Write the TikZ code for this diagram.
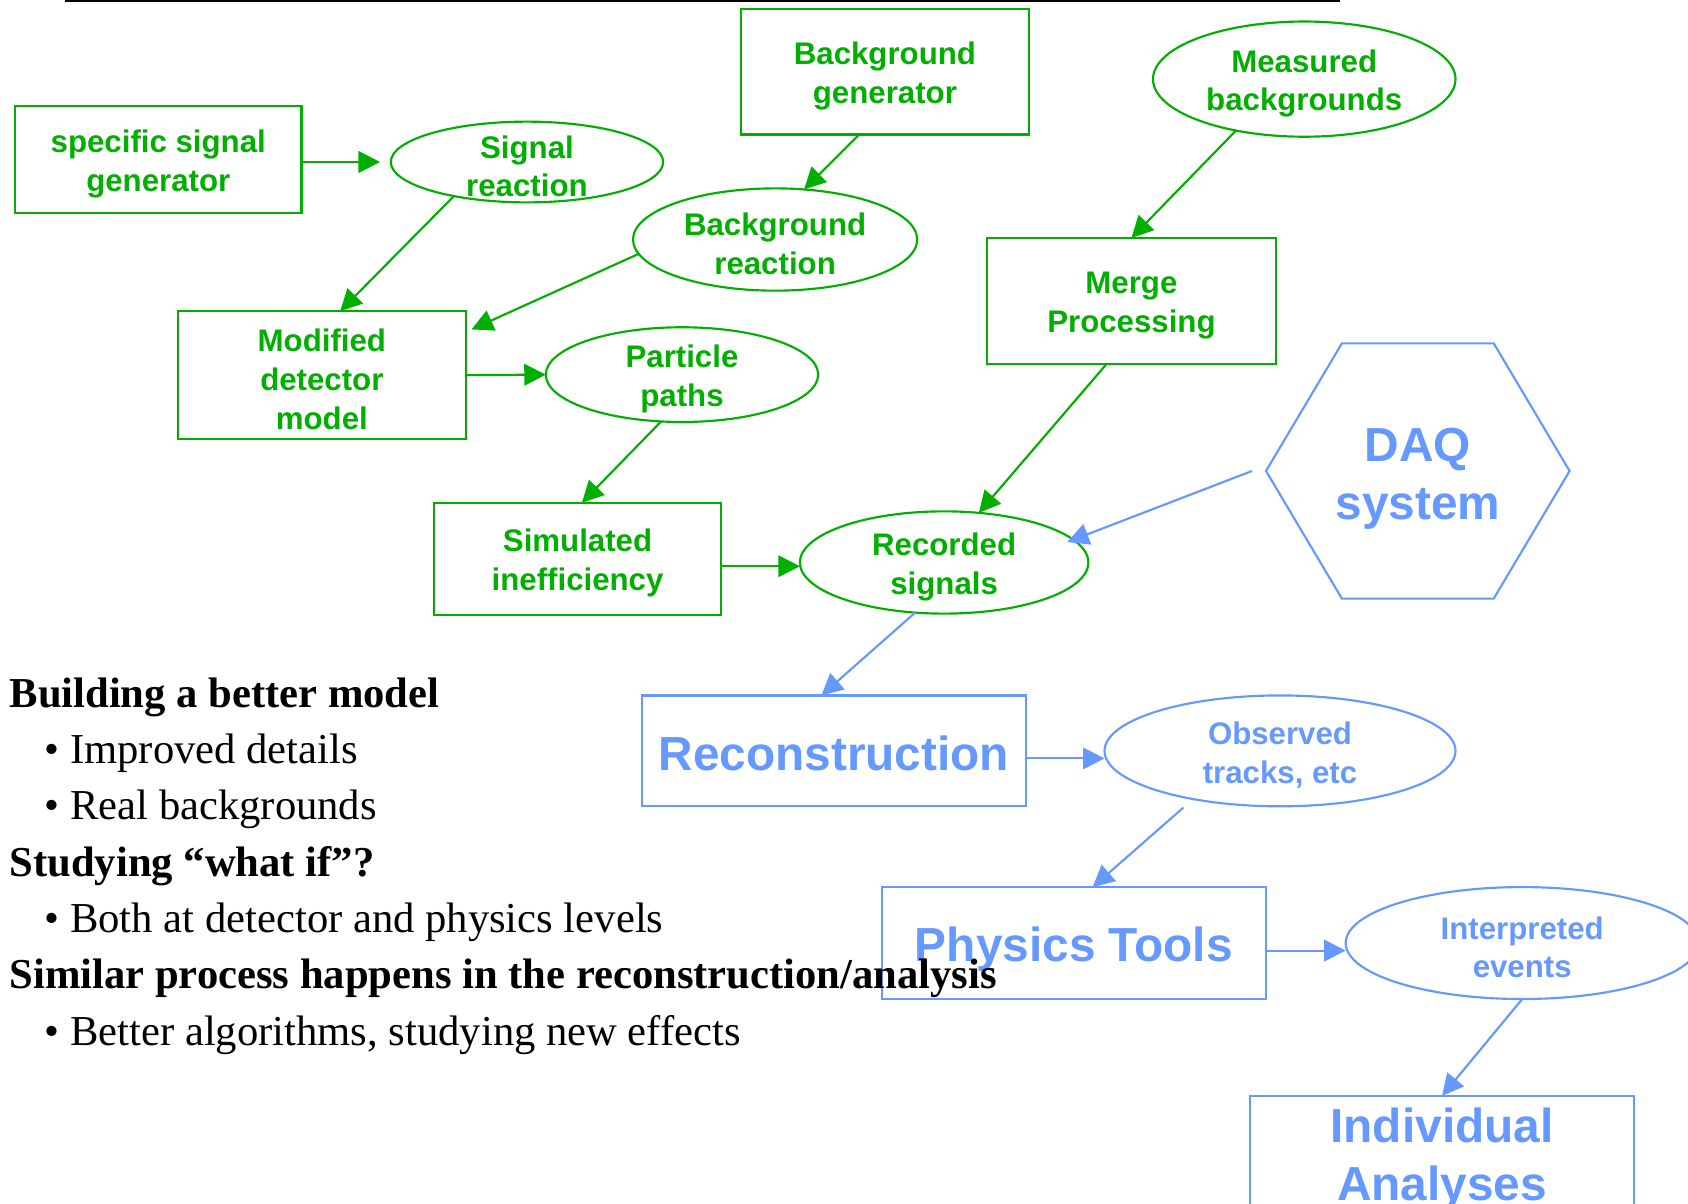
\documentclass[tikz,border=0pt]{standalone}
\usepackage{fontspec}
\setmainfont{Liberation Serif}
\newfontfamily\diagsans{Liberation Sans}
\usetikzlibrary{arrows.meta,shapes.geometric,calc}
\definecolor{flowgreen}{RGB}{0,175,0}
\definecolor{flowblue}{RGB}{102,153,255}

\begin{document}
\begin{tikzpicture}[x=0.5pt,y=-0.5pt,
  gshape/.style={draw=flowgreen, line width=1pt, inner sep=0pt, outer sep=0pt},
  bshape/.style={draw=flowblue, line width=1pt, inner sep=0pt, outer sep=0pt},
  gbox/.style={gshape, rectangle},
  gell/.style={gshape, ellipse},
  bbox/.style={bshape, rectangle},
  bell/.style={bshape, ellipse},
  gtext/.style={text=flowgreen, yshift=-2pt, font=\diagsans\bfseries\fontsize{14.5}{18}\selectfont, align=center},
  bsmall/.style={text=flowblue, yshift=-2pt, font=\diagsans\bfseries\fontsize{14.5}{18}\selectfont, align=center},
  blarge/.style={text=flowblue, yshift=-2.5pt, font=\diagsans\bfseries\fontsize{22.2}{27}\selectfont, align=center},
  garrow/.style={draw=flowgreen, line width=1pt, -{Triangle[length=10pt,width=10pt]}},
  barrow/.style={draw=flowblue, line width=1pt, -{Triangle[length=10pt,width=10pt]}},
  notehead/.style={anchor=base west, inner sep=0pt, font=\bfseries\fontsize{19.8}{24}\selectfont},
  noteitem/.style={anchor=base west, inner sep=0pt, font=\fontsize{19.8}{24}\selectfont},
]
\useasboundingbox (0,0) rectangle (1568,1118);

% rule along the top
\draw[line width=0.93pt] (60,1) -- (1245,1);

% simulation chain (green)
\node[gbox, minimum width=133pt, minimum height=49.5pt,
      label={[gtext]center:{specific signal\\generator}}] (ssg) at (147,148) {};
\node[gell, minimum width=126.5pt, minimum height=37.5pt,
      label={[gtext]center:{Signal\\reaction}}] (sr) at (489.5,150.5) {};
\node[gbox, minimum width=134pt, minimum height=58.5pt,
      label={[gtext]center:{Background\\generator}}] (bg) at (822,66.5) {};
\node[gell, minimum width=140.5pt, minimum height=53.5pt,
      label={[gtext]center:{Measured\\backgrounds}}] (mb) at (1211.5,73.5) {};
\node[gell, minimum width=132pt, minimum height=47.5pt,
      label={[gtext]center:{Background\\reaction}}] (br) at (720,222.5) {};
\node[gbox, minimum width=134pt, minimum height=58.5pt,
      label={[gtext]center:{Merge\\Processing}}] (mp) at (1051,279.5) {};
\node[gbox, minimum width=134pt, minimum height=59.5pt,
      label={[gtext]center:{Modified\\detector\\model}}] (md) at (299,348.5) {};
\node[gell, minimum width=126.5pt, minimum height=44pt,
      label={[gtext]center:{Particle\\paths}}] (pp) at (633.5,348) {};
\node[gbox, minimum width=133.5pt, minimum height=52pt,
      label={[gtext]center:{Simulated\\inefficiency}}] (si) at (536.5,519) {};
\node[gell, minimum width=134pt, minimum height=47.5pt,
      label={[gtext]center:{Recorded\\signals}}] (rs) at (877,522.5) {};

% data acquisition
\begin{scope}[shift={(1317,437.5)}, yscale=0.971]
  \node[bshape, regular polygon, regular polygon sides=6, minimum size=141pt,
        transform shape, label={[blarge, yshift=-1.2pt]center:{DAQ\\system}}] (daq) at (0,0) {};
\end{scope}

% reconstruction and analysis chain (blue)
\node[bbox, minimum width=178.5pt, minimum height=51.5pt,
      label={[blarge, yshift=1.5pt]center:{Reconstruction}}] (rec) at (774.5,697.5) {};
\node[bell, minimum width=163pt, minimum height=51.5pt,
      label={[bsmall]center:{Observed\\tracks, etc}}] (ot) at (1189,697.5) {};
\node[bbox, minimum width=178.5pt, minimum height=52pt,
      label={[blarge, yshift=-0.5pt]center:{Physics Tools}}] (pt) at (997.5,876) {};
\node[bell, minimum width=164pt, minimum height=52pt,
      label={[bsmall]center:{Interpreted\\events}}] (ie) at (1414,876) {};
\node[bbox, minimum width=178.5pt, minimum height=54pt,
      label={[blarge]center:{Individual\\Analyses}}] (ia) at (1339.5,1072) {};

% connectors
\draw[garrow, shorten >=5pt] (ssg.east |- sr.west) -- (sr.west);
\draw[garrow] (sr.205) -- ([xshift=8.5pt]md.north);
\draw[garrow] (br.186) -- ([xshift=2.5pt,yshift=-8.5pt]md.north east);
\draw[garrow] ([xshift=-12pt]bg.south) -- (br.60);
\draw[garrow] (mb.217) -- (mp.north);
\draw[garrow] (md.east) -- (pp.west);
\draw[garrow] (pp.246) -- ([xshift=2pt]si.north);
\draw[garrow] ([xshift=-11.5pt]mp.south) -- (rs.55);
\draw[barrow, shorten >=-3pt] ([xshift=-6.5pt]daq.west) -- (rs.10);
\draw[garrow] ($(si.east)+(0,7)$) -- ($(si.east -| rs.west)+(0,7)$);
\draw[barrow] (rs.240) -- ([xshift=-5.75pt]rec.north);
\draw[barrow] ($(rec.east)+(0,7)$) -- ($(rec.east -| ot.west)+(0,7)$);
\draw[barrow, shorten <=6pt] (ot.209) -- ([xshift=8.75pt]pt.north);
\draw[barrow] ($(pt.east)+(0,7)$) -- ($(pt.east -| ie.west)+(0,7)$);
\draw[barrow] (ie.south) -- (ia.north);

% notes
\node[notehead] (n1) at (8.5,657) {Building a better model};
\node[noteitem] (n2) at (41,709.3) {•\hspace{5pt}Improved details};
\node[noteitem] (n3) at (41,761.6) {•\hspace{5pt}Real backgrounds};
\node[notehead] (n4) at (8.5,813.9) {Studying “what if”?};
\node[noteitem] (n5) at (41,866.2) {•\hspace{5pt}Both at detector and physics levels};
\node[notehead] (n6) at (8.5,918.5) {Similar process happens in the reconstruction/analysis};
\node[noteitem] (n7) at (41,970.8) {•\hspace{5pt}Better algorithms, studying new effects};
\end{tikzpicture}
\end{document}
